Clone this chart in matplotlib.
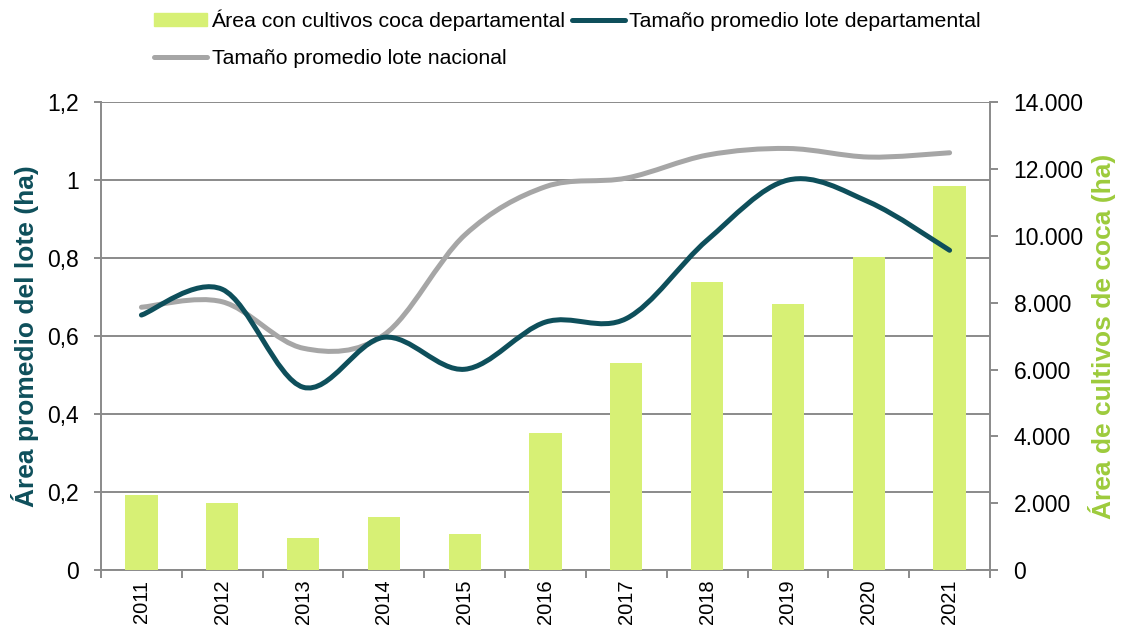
import numpy as np
import matplotlib
matplotlib.use("Agg")
import matplotlib.pyplot as plt
from matplotlib.path import Path
from matplotlib.patches import PathPatch, Patch
from matplotlib.lines import Line2D

plt.rcParams['font.family'] = ['Liberation Sans', 'DejaVu Sans']

years = ['2011', '2012', '2013', '2014', '2015', '2016',
         '2017', '2018', '2019', '2020', '2021']
area_coca = [2240, 2000, 960, 1600, 1090, 4110, 6190, 8610, 7960, 9360, 11490]
lote_dep = [0.654, 0.72, 0.469, 0.597, 0.515, 0.636, 0.645, 0.846, 1.0, 0.944, 0.82]
lote_nac = [0.674, 0.688, 0.569, 0.603, 0.859, 0.983, 1.005, 1.064, 1.081, 1.059, 1.07]

left_ticks = [0, 0.2, 0.4, 0.6, 0.8, 1.0, 1.2]
left_labels = ['0', '0,2', '0,4', '0,6', '0,8', '1', '1,2']
right_ticks = [0, 2000, 4000, 6000, 8000, 10000, 12000, 14000]
right_labels = ['0', '2.000', '4.000', '6.000', '8.000', '10.000', '12.000', '14.000']

c_bar = '#D7F075'
c_dep = '#0E4F5B'
c_nac = '#A6A6A6'
c_axis = '#8A8A8A'
c_lbl_r = '#9DCB3C'


def smooth_path(xs, ys):
    # excel-like smoothed line: bezier segments with catmull-rom control points
    p = np.column_stack([xs, ys]).astype(float)
    n = len(p)
    verts = [p[0]]
    codes = [Path.MOVETO]
    for i in range(n - 1):
        p0 = p[i - 1] if i > 0 else p[i]
        p1, p2 = p[i], p[i + 1]
        p3 = p[i + 2] if i + 2 < n else p[i + 1]
        c1 = p1 + (p2 - p0) / 6.0
        c2 = p2 - (p3 - p1) / 6.0
        verts += [c1, c2, p2]
        codes += [Path.CURVE4] * 3
    return Path(verts, codes)


fig = plt.figure(figsize=(11.25, 6.3), dpi=100)
ax = fig.add_axes([0.0898, 0.095, 0.7902, 0.743])
x = np.arange(len(years))

# left axis: grid + ticks
ax.set_xlim(-0.5, len(years) - 0.5)
ax.set_ylim(0, 1.2)
ax.set_yticks(left_ticks)
ax.set_yticklabels(left_labels, fontsize=16.5)
ax.yaxis.grid(True, color=c_axis, linewidth=1.4)
ax.set_axisbelow(True)
ax.set_xticks(np.arange(-0.5, len(years), 1.0))
ax.set_xticklabels([])
ax.set_xticks(x, minor=True)
ax.set_xticklabels(years, minor=True, rotation=90, fontsize=14.5)
ax.tick_params(axis='x', which='major', length=6, color=c_axis, width=1.4)
ax.tick_params(axis='x', which='minor', length=0, pad=7)
ax.tick_params(axis='y', length=5, color=c_axis, width=1.4, pad=11)
for s in ['top', 'right']:
    ax.spines[s].set_visible(False)
for s in ['left', 'bottom']:
    ax.spines[s].set_color(c_axis)
    ax.spines[s].set_linewidth(1.4)
ax.set_ylabel('Área promedio del lote (ha)', fontsize=19, fontweight='bold',
              color=c_dep, labelpad=6)

# right axis: bars
ax2 = ax.twinx()
ax2.bar(x, area_coca, width=0.4, color=c_bar, zorder=2)
ax2.set_ylim(0, 14000)
ax2.set_yticks(right_ticks)
ax2.set_yticklabels(right_labels, fontsize=16.5)
ax2.tick_params(axis='y', length=6, color=c_axis, width=1.4, pad=11)
for s in ['top', 'left', 'bottom']:
    ax2.spines[s].set_visible(False)
ax2.spines['right'].set_color(c_axis)
ax2.spines['right'].set_linewidth(1.4)
ax2.set_ylabel('Área de cultivos de coca (ha)', fontsize=19, fontweight='bold',
               color=c_lbl_r, labelpad=3)

# lines on top, same scale as left axis
ax3 = ax.twinx()
ax3.set_ylim(0, 1.2)
ax3.axis('off')
for vals, col in [(lote_nac, c_nac), (lote_dep, c_dep)]:
    ax3.add_patch(PathPatch(smooth_path(x, vals), facecolor='none', edgecolor=col,
                            linewidth=3.6, capstyle='round', joinstyle='round'))

handles = [
    Patch(color=c_bar, label='Área con cultivos coca departamental'),
    Line2D([], [], color=c_nac, linewidth=3.6, solid_capstyle='round',
           label='Tamaño promedio lote nacional'),
    Line2D([], [], color=c_dep, linewidth=3.6, solid_capstyle='round',
           label='Tamaño promedio lote departamental'),
]
fig.legend(handles=handles, ncol=2, loc='upper left', bbox_to_anchor=(0.12, 1.015),
           frameon=False, fontsize=15.3, handlelength=2.5, handleheight=0.6,
           handletextpad=0.2, columnspacing=0.3, labelspacing=0.85)

fig.savefig('out.png', dpi=100)
